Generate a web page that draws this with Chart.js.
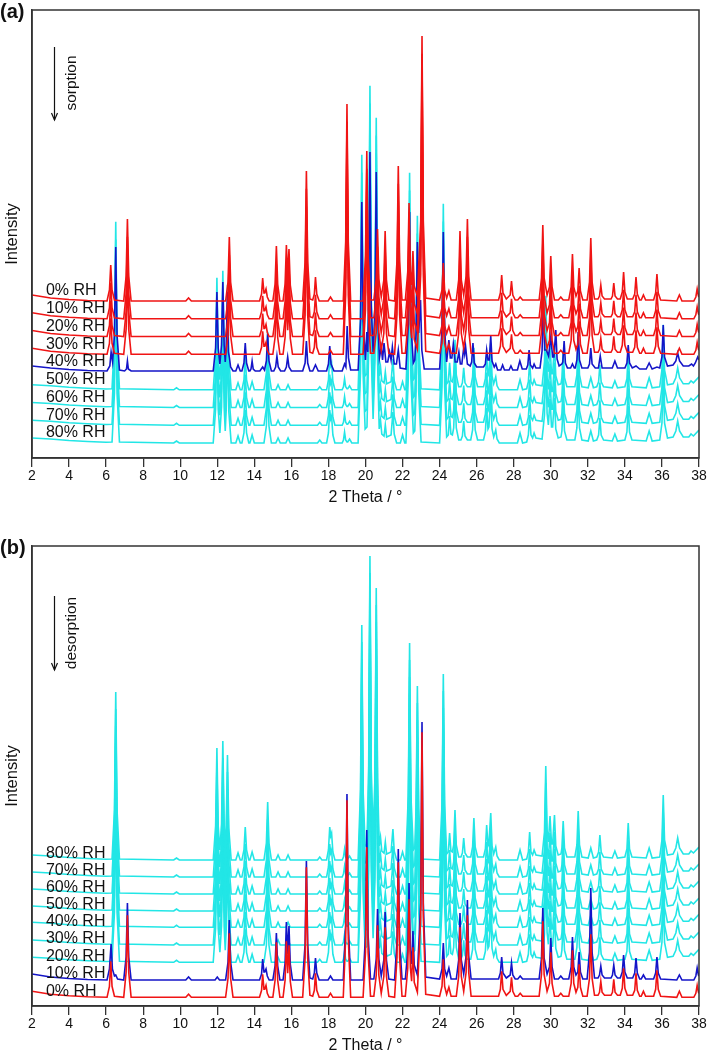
<!DOCTYPE html>
<html><head><meta charset="utf-8">
<script src="https://cdn.jsdelivr.net/npm/chart.js@4.4.0/dist/chart.umd.min.js"></script>
<style>
html,body{margin:0;padding:0;background:#fff;}
#wa{position:absolute;left:0;top:0;width:708px;height:530px;}
#wb{position:absolute;left:0;top:530px;width:708px;height:531px;}
</style></head><body>
<div id="wa"><canvas id="ca"></canvas></div>
<div id="wb"><canvas id="cb"></canvas></div>
<script>
// ---------- DATA (2θ, intensity above each trace's own baseline) ----------
const xTicks = [2,4,6,8,10,12,14,16,18,20,22,24,26,28,30,32,34,36,38];

// anhydrous form (red traces)
const formRed = [[2,6],[3,3],[4,1.5],[5,0.5],
 [6.05,0],[6.18,11],[6.25,36],[6.32,11],[6.45,1],[6.95,0],[7.08,25],[7.15,82],[7.22,25],[7.35,0],
 [10.3,0],[10.45,3],[10.6,0],[12.45,0],[12.58,19],[12.65,64],[12.72,19],[12.85,0],
 [14.28,0],[14.39,7],[14.45,23],[14.52,8],[14.56,8],[14.63,12],[14.7,4],[14.8,0],
 [15.0,0],[15.12,17],[15.19,55],[15.26,17],[15.38,0],
 [15.55,0],[15.66,17],[15.73,56],[15.8,24],[15.87,52],[15.94,16],[16.06,0],
 [16.61,0],[16.74,39],[16.81,130],[16.88,39],[17.0,2],[17.15,1],[17.24,7],[17.3,24],[17.37,7],[17.5,0],
 [17.98,0],[18.11,4],[18.24,0],[18.8,0],[18.93,59],[19.0,197],[19.07,59],[19.2,0],
 [19.87,0],[20.0,45],[20.07,150],[20.14,45],[20.27,1],
 [20.45,1],[20.58,22],[20.65,72],[20.72,22],[20.85,4],[20.99,21],[21.06,70],[21.13,21],[21.26,1],
 [21.57,0],[21.7,40],[21.77,135],[21.84,40],[21.97,1],
 [22.15,1],[22.28,29],[22.35,98],[22.42,30],[22.49,16],[22.56,50],[22.63,15],[22.8,5],[22.98,80],[23.05,265],[23.12,80],[23.25,3],
 [24.0,1],[24.13,11],[24.2,38],[24.27,11],[24.38,3],[24.5,10],[24.62,1],
 [24.9,1],[25.03,21],[25.1,70],[25.17,21],[25.3,6],[25.43,25],[25.5,82],[25.57,25],[25.7,1],
 [27.18,1],[27.28,8],[27.35,26],[27.42,8],[27.6,2],[27.81,6],[27.88,20],[27.95,6],[28.08,1],
 [28.22,1],[28.35,4],[28.48,1],
 [29.37,1],[29.5,23],[29.57,76],[29.64,23],[29.8,6],[29.93,14],[30.0,45],[30.07,14],[30.2,1],
 [30.41,1],[30.54,4],[30.67,1],
 [30.97,1],[31.1,14],[31.17,47],[31.24,14],[31.36,5],[31.46,10],[31.53,33],[31.6,10],[31.73,1],
 [31.96,1],[32.09,19],[32.16,63],[32.23,19],[32.36,2],[32.55,2],[32.63,5],[32.7,16],[32.77,5],[32.9,2],
 [33.25,2],[33.33,5],[33.4,18],[33.47,5],[33.6,2],[33.75,2],[33.86,9],[33.93,29],[34.0,9],[34.13,2],
 [34.42,2],[34.53,7],[34.6,24],[34.67,7],[34.8,1],[34.88,1],[35.0,6],[35.12,1],
 [35.55,1],[35.66,8],[35.73,27],[35.8,8],[35.93,1],[36.8,0],[36.94,6],[37.08,0],
 [37.72,0],[37.83,4],[37.9,12],[37.97,5],[38,4]];

// hydrate form (cyan traces)
const formCyan = [[2,5],[3,4],[4,2.5],[5,1.5],[6,0.8],
 [6.32,1],[6.45,50],[6.52,168],[6.59,50],[6.72,1],[9.65,0],[9.8,2],[9.95,0],
 [11.78,0],[11.91,34],[11.98,112],[12.05,34],[12.14,10],[12.23,36],[12.3,119],[12.37,36],[12.43,12],
 [12.48,32],[12.55,105],[12.62,32],[12.75,0],
 [13.0,0],[13.12,7],[13.24,0],[13.33,0],[13.44,10],[13.51,33],[13.58,10],[13.7,0],[13.76,0],[13.88,8],[14.0,0],
 [14.52,0],[14.65,17],[14.72,58],[14.79,17],[14.92,0],[15.16,0],[15.28,5],[15.4,0],[15.7,0],[15.82,5],[15.94,0],
 [17.41,0],[17.53,3],[17.65,0],[17.9,0],[18.0,10],[18.07,33],[18.12,24],[18.17,27],[18.24,8],[18.35,0],
 [18.74,0],[18.81,3],[18.87,11],[18.93,3],[19.0,1],[19.04,1],[19.14,4],[19.26,0],
 [19.6,0],[19.73,70],[19.8,235],[19.87,70],[19.98,14],[20.08,16],[20.17,91],[20.24,304],[20.31,91],[20.41,24],
 [20.51,82],[20.58,272],[20.65,82],[20.74,14],[20.81,23],[20.88,9],[21.0,7],[21.07,18],[21.14,6],
 [21.38,8],[21.48,31],[21.55,9],[21.68,0],[21.88,0],[22.0,8],[22.12,0],
 [22.18,0],[22.31,65],[22.38,217],[22.45,65],[22.58,10],[22.66,12],[22.73,52],[22.8,174],[22.87,52],[23.0,1],
 [24.0,0],[24.13,56],[24.2,186],[24.27,56],[24.38,6],[24.47,8],[24.54,27],[24.61,9],
 [24.69,8],[24.76,15],[24.83,50],[24.9,15],[25.03,3],[25.15,3],[25.23,7],[25.3,22],[25.37,7],[25.5,3],
 [25.68,3],[25.78,13],[25.85,42],[25.92,13],[26.05,3],
 [26.37,3],[26.47,11],[26.54,35],[26.61,14],[26.66,16],[26.76,47],[26.83,14],[26.92,6],[27.03,13],[27.1,4],[27.22,0],
 [28.2,0],[28.34,10],[28.48,0],[28.7,1],[28.79,8],[28.86,28],[28.93,8],[29.02,5],[29.1,10],[29.2,5],
 [29.53,4],[29.66,28],[29.73,94],[29.8,30],[29.87,18],[29.96,44],[30.04,16],[30.1,16],[30.2,45],[30.27,14],
 [30.4,5],[30.55,6],[30.6,12],[30.67,39],[30.74,12],[30.87,3],
 [31.3,3],[31.41,15],[31.48,49],[31.55,15],[31.68,3],[32.02,2],[32.16,12],[32.3,2],
 [32.48,3],[32.58,8],[32.65,25],[32.72,8],[32.85,3],[33.32,2],[33.46,9],[33.6,2],
 [34.0,3],[34.11,11],[34.18,37],[34.25,11],[34.38,3],[35.15,2],[35.31,12],[35.47,2],
 [35.88,3],[36.0,20],[36.07,65],[36.14,20],[36.3,5],[36.6,6],[36.75,12],[36.85,22],[36.95,12],[37.15,6],
 [37.45,6],[37.57,9],[37.7,7],[38,13]];

// 40% RH sorption (blue, mixed phases)
const mix40 = [[2,6],[3,4],[4,2.5],[5,1.5],
 [6.05,1],[6.2,6],[6.27,20],[6.35,10],[6.45,37],[6.52,125],[6.59,37],[6.72,2],[7.0,1],[7.1,3],[7.15,11],[7.2,3],[7.35,1],
 [11.78,1],[11.91,24],[11.98,80],[12.05,24],[12.14,8],[12.23,27],[12.3,90],[12.37,27],[12.43,10],
 [12.48,24],[12.55,80],[12.6,20],[12.65,15],[12.72,5],[12.85,1],
 [13.0,1],[13.12,7],[13.24,1],[13.33,1],[13.44,9],[13.51,29],[13.58,9],[13.7,1],[13.76,1],[13.82,3],[13.88,11],[13.94,3],[14.05,1],
 [14.3,1],[14.45,5],[14.55,2],[14.65,11],[14.72,38],[14.79,11],[14.92,1],
 [15.05,1],[15.15,5],[15.22,16],[15.29,5],[15.42,1],[15.63,1],[15.73,5],[15.8,15],[15.87,5],[16.0,1],
 [16.61,1],[16.74,9],[16.81,31],[16.88,9],[17.0,1],[17.15,1],[17.3,7],[17.45,1],
 [17.9,1],[18.0,8],[18.07,26],[18.14,8],[18.3,1],[18.74,1],[18.87,8],[18.94,5],[19.01,46],[19.08,14],[19.2,2],
 [19.6,2],[19.73,51],[19.8,170],[19.87,51],[20.0,12],[20.07,40],[20.12,20],[20.17,66],[20.24,220],[20.31,66],
 [20.41,20],[20.51,60],[20.58,200],[20.65,60],[20.75,14],[20.85,25],[20.92,12],[21.0,29],[21.1,10],[21.2,10],
 [21.3,20],[21.38,12],[21.45,25],[21.55,8],[21.67,8],[21.77,22],[21.87,4],
 [22.18,3],[22.31,48],[22.38,160],[22.45,48],[22.58,9],[22.66,12],[22.73,39],[22.8,130],[22.87,39],[22.97,72],[23.04,22],[23.17,3],
 [24.0,3],[24.13,42],[24.2,140],[24.27,42],[24.38,10],[24.5,32],[24.58,14],[24.66,14],[24.74,28],[24.84,10],
 [24.95,10],[25.04,20],[25.12,8],[25.2,8],[25.3,24],[25.35,18],[25.4,26],[25.5,8],[25.65,6],[25.73,10],[25.8,29],[25.87,9],[26.0,5],
 [26.37,5],[26.47,8],[26.54,22],[26.61,12],[26.68,12],[26.76,36],[26.83,11],[26.95,5],[27.03,8],[27.13,2],
 [27.3,2],[27.4,7],[27.5,2],[27.75,2],[27.85,6],[27.95,2],[28.2,2],[28.33,11],[28.46,3],
 [28.68,3],[28.76,7],[28.83,22],[28.9,7],[29.02,4],[29.1,8],[29.2,4],
 [29.42,4],[29.53,21],[29.6,70],[29.67,22],[29.76,22],[29.88,16],[30.0,35],[30.1,15],[30.17,15],[30.27,42],[30.34,13],
 [30.45,6],[30.6,8],[30.65,10],[30.72,31],[30.79,9],[30.9,4],
 [31.07,4],[31.17,8],[31.27,4],[31.32,4],[31.41,12],[31.48,40],[31.55,12],[31.68,4],
 [32.0,4],[32.09,8],[32.16,24],[32.23,8],[32.4,4],[32.57,4],[32.67,16],[32.77,4],[33.32,4],[33.46,11],[33.6,4],
 [34.0,4],[34.11,9],[34.18,27],[34.25,9],[34.4,4],[34.6,6],[34.8,3],[35.15,3],[35.31,9],[35.47,3],[35.73,5],
 [35.88,4],[36.0,15],[36.07,47],[36.14,15],[36.3,6],[36.6,7],[36.75,11],[36.85,19],[36.95,11],[37.15,6],
 [37.45,6],[37.6,8],[37.7,6],[37.8,9],[37.93,15],[38,12]];

// 10% RH desorption (blue)
const mix10 = [[2,6],[3,3],[4,1.5],[5,0.5],
 [6.05,0],[6.18,11],[6.27,36],[6.34,11],[6.45,4],[6.52,5],[6.62,1],[6.95,0],[7.08,23],[7.15,77],[7.22,23],[7.35,0],
 [10.3,0],[10.45,3],[10.6,0],[11.88,0],[12.0,3],[12.12,0],[12.45,0],[12.58,18],[12.65,60],[12.72,18],[12.85,0],
 [14.28,0],[14.39,6],[14.45,21],[14.52,8],[14.56,8],[14.63,11],[14.7,4],[14.8,0],
 [15.0,0],[15.12,14],[15.19,47],[15.26,14],[15.38,0],
 [15.55,0],[15.66,17],[15.73,58],[15.8,26],[15.87,54],[15.94,16],[16.06,0],
 [16.61,0],[16.74,36],[16.81,119],[16.88,36],[17.0,2],[17.15,1],[17.24,7],[17.3,22],[17.37,7],[17.5,0],
 [17.98,0],[18.11,4],[18.24,0],[18.8,0],[18.93,56],[19.0,186],[19.07,56],[19.2,0],
 [19.87,0],[20.0,45],[20.07,150],[20.14,45],[20.27,1],
 [20.45,1],[20.58,21],[20.65,71],[20.72,21],[20.85,4],[20.99,20],[21.06,68],[21.13,20],[21.26,1],
 [21.57,0],[21.7,39],[21.77,131],[21.84,39],[21.97,1],
 [22.15,1],[22.28,29],[22.35,97],[22.42,30],[22.49,16],[22.56,49],[22.63,15],[22.8,5],[22.98,77],[23.05,258],[23.12,77],[23.25,3],
 [24.0,1],[24.13,11],[24.2,37],[24.27,11],[24.38,4],[24.5,12],[24.62,1],
 [24.9,1],[25.03,20],[25.1,67],[25.17,20],[25.3,6],[25.43,24],[25.5,80],[25.57,24],[25.7,1],
 [27.18,1],[27.28,7],[27.35,23],[27.42,7],[27.6,2],[27.81,5],[27.88,17],[27.95,5],[28.08,1],
 [28.22,1],[28.35,4],[28.48,1],
 [29.37,1],[29.5,22],[29.57,72],[29.64,22],[29.8,6],[29.93,13],[30.0,42],[30.07,13],[30.2,1],
 [30.41,1],[30.54,4],[30.67,1],
 [30.97,1],[31.1,13],[31.17,43],[31.24,13],[31.36,5],[31.46,8],[31.53,28],[31.6,8],[31.73,1],
 [31.96,1],[32.09,28],[32.16,92],[32.23,28],[32.36,2],[32.55,2],[32.63,5],[32.7,14],[32.77,5],[32.9,2],
 [33.25,2],[33.33,5],[33.4,15],[33.47,5],[33.6,2],[33.75,2],[33.86,8],[33.93,25],[34.0,8],[34.13,2],
 [34.42,2],[34.53,7],[34.6,22],[34.67,7],[34.8,1],[34.88,1],[35.0,5],[35.12,1],
 [35.55,1],[35.66,7],[35.73,23],[35.8,7],[35.93,1],[36.8,0],[36.94,5],[37.08,0],
 [37.72,0],[37.83,4],[37.9,12],[37.97,5],[38,4]];

// sorption series (panel a), top to bottom
const rhA      = ['0% RH','10% RH','20% RH','30% RH','40% RH','50% RH','60% RH','70% RH','80% RH'];
const phaseA   = ['red','red','red','red','mix40','cyan','cyan','cyan','cyan'];
const offsetA  = [157,139.2,121.5,103.7,86,68.2,50.5,32.7,15];
// desorption series (panel b), top to bottom
const rhB      = ['80% RH','70% RH','60% RH','50% RH','40% RH','30% RH','20% RH','10% RH','0% RH'];
const phaseB   = ['cyan','cyan','cyan','cyan','cyan','cyan','cyan','mix10','red'];
const offsetB  = [146,129,112,95,78.7,61,43.7,26,8.7];

// ---------- RENDERING ----------
const FONT = "'Liberation Sans', Arial, sans-serif";
const patterns = {red: formRed, cyan: formCyan, mix40: mix40, mix10: mix10};
const colours  = {red: '#f01414', cyan: '#22e6e6', mix40: '#1414c8', mix10: '#1414c8'};
const rank     = {red: 0, mix40: 1, mix10: 1, cyan: 2};

function buildDatasets(rh, phase, offset){
  return rh.map((lab,i)=>({
    label: lab,
    data: patterns[phase[i]].map(p=>({x:p[0], y:p[1]+offset[i]})),
    borderColor: colours[phase[i]],
    borderWidth: 1.6,
    pointRadius: 0,
    tension: 0,
    fill: false,
    order: rank[phase[i]]
  }));
}

function makeLabels(rh, offset, lift){
  return {
    id: 'rhLabels',
    afterDatasetsDraw(chart){
      const {ctx, scales:{x,y}} = chart;
      ctx.save();
      ctx.fillStyle = '#111';
      ctx.font = '16px ' + FONT;
      ctx.textBaseline = 'middle';
      ctx.textAlign = 'left';
      rh.forEach((lab,i)=>{
        ctx.fillText(lab, x.getPixelForValue(2.75), y.getPixelForValue(offset[i] + lift));
      });
      ctx.restore();
    }
  };
}

function makeDecor(letter, word, arrowTop, arrowLen, textCenter){
  return {
    id: 'decor',
    afterDraw(chart){
      const {ctx, chartArea:a} = chart;
      ctx.save();
      ctx.strokeStyle = '#333';
      ctx.lineWidth = 1.5;
      ctx.strokeRect(a.left, a.top, a.right - a.left, a.bottom - a.top);
      ctx.fillStyle = '#111';
      ctx.font = 'bold 20px ' + FONT;
      ctx.textBaseline = 'middle';
      ctx.textAlign = 'left';
      ctx.fillText(letter, 0, a.top + 2);
      const ax = a.left + 22.5;
      const y0 = a.top + arrowTop, y1 = y0 + arrowLen;
      ctx.strokeStyle = '#111';
      ctx.lineWidth = 1.2;
      ctx.beginPath(); ctx.moveTo(ax, y0); ctx.lineTo(ax, y1); ctx.stroke();
      ctx.beginPath(); ctx.moveTo(ax - 3, y1 - 7); ctx.lineTo(ax, y1); ctx.lineTo(ax + 3, y1 - 7); ctx.stroke();
      ctx.translate(a.left + 40, a.top + textCenter);
      ctx.rotate(-Math.PI/2);
      ctx.font = '15.5px ' + FONT;
      ctx.textAlign = 'center';
      ctx.fillText(word, 0, 0);
      ctx.restore();
    }
  };
}

function makeChart(id, rh, phase, offset, yMax, padTop, padBottom, lift, letter, word, arrowTop, arrowLen, textCenter){
  return new Chart(document.getElementById(id), {
    type: 'line',
    data: { datasets: buildDatasets(rh, phase, offset) },
    options: {
      responsive: true, maintainAspectRatio: false, animation: false,
      layout: { padding: { top: padTop, right: 9, bottom: padBottom, left: 0 } },
      plugins: { legend: {display:false}, tooltip: {enabled:false} },
      scales: {
        x: {
          type: 'linear', min: 2, max: 38,
          afterBuildTicks: s => { s.ticks = xTicks.map(v=>({value:v})); },
          afterFit: s => { s.height = 55; },
          grid: { display: true, drawOnChartArea: false, drawTicks: true, tickLength: 9, color: '#333', lineWidth: 1.3 },
          border: { display: true, color: '#333', width: 1.5 },
          ticks: { color: '#111', font: { family: FONT, size: 14 }, padding: 1, maxRotation: 0, autoSkip: false },
          title: { display: true, text: '2 Theta / °', color: '#111', font: { family: FONT, size: 16 }, padding: { top: 0, bottom: 6 } }
        },
        y: {
          min: 0, max: yMax,
          afterFit: s => { s.width = 32; },
          grid: { display: false },
          border: { display: true, color: '#333', width: 1.5 },
          ticks: { display: false },
          title: { display: true, text: 'Intensity', color: '#111', font: { family: FONT, size: 16.5 }, padding: { top: 3, bottom: 0 } }
        }
      }
    },
    plugins: [makeLabels(rh, offset, lift), makeDecor(letter, word, arrowTop, arrowLen, textCenter)]
  });
}

makeChart('ca', rhA, phaseA, offsetA, 448, 10, 17, 10, '(a)', 'sorption', 37, 73, 73);
makeChart('cb', rhB, phaseB, offsetB, 460, 16, 0, 6, '(b)', 'desorption', 50, 74, 87);
</script>
</body></html>
